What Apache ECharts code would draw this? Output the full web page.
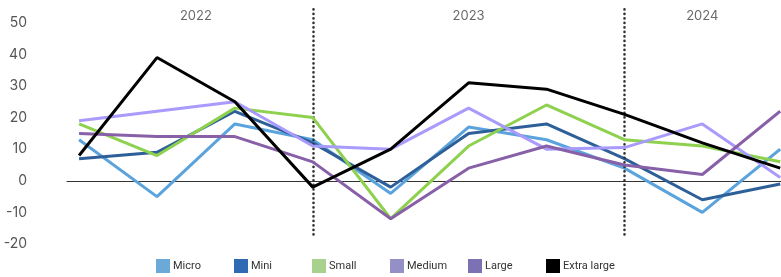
<!DOCTYPE html>
<html>
<head>
<meta charset="utf-8">
<script src="https://cdn.jsdelivr.net/npm/echarts@6/dist/echarts.min.js"></script>
<style>
  html, body { margin: 0; padding: 0; background: #fff; }
  #chart { width: 781px; height: 277px; }
</style>
</head>
<body>
<div id="chart"></div>
<script>
// categories are points along the time axis (index 0..9)
var points = [0, 1, 2, 3, 4, 5, 6, 7, 8, 9];
var seriesNames = ['Micro', 'Mini', 'Small', 'Medium', 'Large', 'Extra large'];

var micro = [13, -5, 18, 13, -4, 17, 13, 4, -10, 10];
var mini = [7, 9, 22, 12, -2, 15, 18, 7, -6, -1];
var small = [18, 8, 23, 20, -12, 11, 24, 13, 11, 6];
var medium = [19, 22, 25, 11, 10, 23, 10, 10.5, 18, 1];
var large = [15, 14, 14, 6, -12, 4, 11, 5, 2, 22];
var extraLarge = [8, 39, 25, -2, 10, 31, 29, 21, 12, 4];

var yearLabels = ['2022', '2023', '2024'];
var yearCenters = [1.5, 5, 8];
var yearBreaks = [3, 7];
var yTicks = [-20, -10, 0, 10, 20, 30, 40, 50];

var lineColors = ['#5aa3dc', '#2f5f98', '#8ed14f', '#a89bfc', '#8760a8', '#000000'];
var legendColors = ['#6aa9d8', '#2f6ab5', '#a9d18e', '#958fc8', '#7b71b3', '#000000'];

var allValues = [micro, mini, small, medium, large, extraLarge];

const chart = echarts.init(document.getElementById('chart'), null, { renderer: 'canvas' });

var series = [];
for (var i = 0; i < seriesNames.length; i++) {
    series.push({
        name: seriesNames[i],
        type: 'line',
        symbol: 'none',
        color: lineColors[i],
        lineStyle: { width: 3, color: lineColors[i] },
        data: points.map(function (p, k) { return [p, allValues[i][k]]; }),
        z: 3 + i
    });
}

// year separators (dotted)
series.push({
    name: 'breaks',
    type: 'line',
    data: [],
    silent: true,
    markLine: {
        silent: true,
        symbol: 'none',
        label: { show: false },
        lineStyle: { type: [0.1, 4.4], cap: 'round', color: '#333', width: 2.6 },
        data: yearBreaks.map(function (b) {
            return [{ coord: [b, -17] }, { coord: [b, 55] }];
        })
    }
});

// year labels along the top
series.push({
    name: 'years',
    type: 'scatter',
    symbolSize: 0,
    silent: true,
    label: {
        show: true,
        position: 'inside',
        formatter: function (p) { return yearLabels[p.dataIndex]; },
        color: '#444',
        fontSize: 13,
        fontFamily: 'Inter'
    },
    data: yearCenters.map(function (c) { return [c, 52]; })
});

// one legend per item so each sits on a fixed 78px slot
var legends = seriesNames.map(function (n, i) {
    return {
        data: [{ name: n, itemStyle: { color: legendColors[i] } }],
        left: 156 + 78 * i,
        top: 259,
        padding: 0,
        icon: 'rect',
        itemWidth: 14,
        itemHeight: 14,
        textStyle: { color: '#333', fontSize: 11, fontFamily: 'Roboto', padding: [0, 0, 0, -2] }
    };
});

var option = {
    animation: false,
    textStyle: { fontFamily: 'Inter' },
    grid: { left: 67, right: 0, top: 7, bottom: 33, containLabel: false },
    legend: legends,
    xAxis: {
        type: 'value',
        min: -0.155,
        max: 9.01,
        axisLine: { show: true, onZero: true, lineStyle: { color: '#333', width: 1 } },
        axisTick: { show: false },
        axisLabel: { show: false },
        splitLine: { show: false }
    },
    yAxis: {
        type: 'value',
        min: yTicks[0],
        max: 55,
        interval: 10,
        axisLine: { show: false },
        axisTick: { show: false },
        splitLine: { show: false },
        axisLabel: {
            showMaxLabel: false,
            margin: 40,
            color: '#555',
            fontSize: 14,
            fontFamily: 'Inter'
        }
    },
    series: series
};
chart.setOption(option);
</script>
</body>
</html>
